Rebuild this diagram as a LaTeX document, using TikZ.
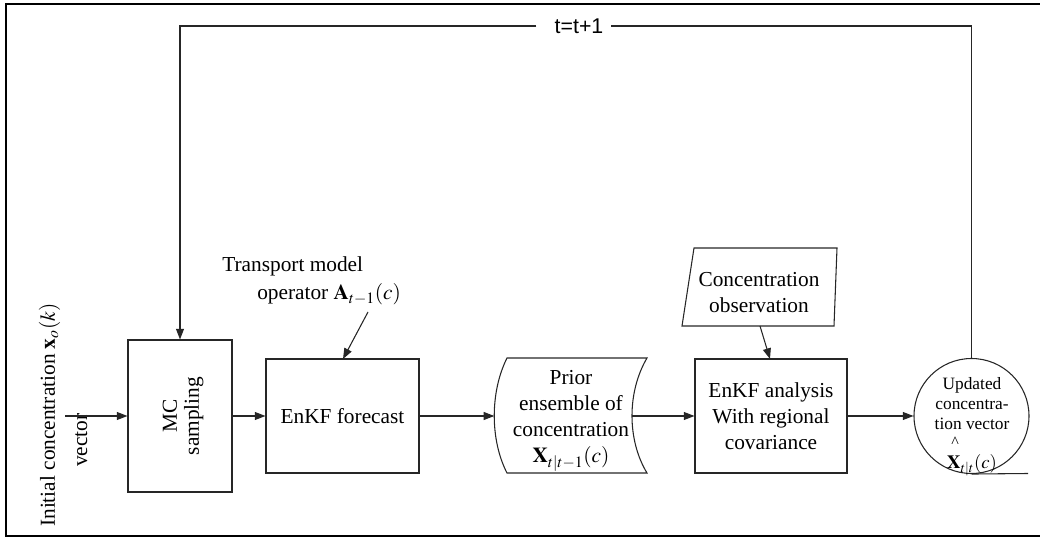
\documentclass[tikz,border=0pt]{standalone}
\usepackage{mathptmx}
\usepackage{fontspec}
\setmainfont{Liberation Serif}
\newfontfamily\arialf{Liberation Sans}
\usetikzlibrary{arrows.meta}
\begin{document}
\begin{tikzpicture}[x=0.75pt,y=-0.75pt,
  ln/.style={draw=black!85, line width=0.8pt},
  arr/.style={ln, -{Triangle[length=8pt,width=6pt]}},
  box/.style={ln, rectangle, inner sep=0pt, align=center, font=\fontsize{16}{19.5}\selectfont},
  txt/.style={inner sep=0pt, align=center, font=\fontsize{16}{19.5}\selectfont},
  plain/.style={inner sep=0pt, font=\fontsize{16}{19.5}\selectfont},
]
\useasboundingbox (0,0) rectangle (1040,538);
% outer frame (open on the right)
\draw[line width=1.6pt] (1040,4) -- (6,4) -- (6,536) -- (1040,536);

% main blocks
\node[box, minimum width=78pt, minimum height=114pt] (mc) at (180,416) {};
\node[txt, rotate=90, font=\fontsize{16}{16.5}\selectfont] (mclabel) at (183,416) {MC\\sampling};
\node[box, minimum width=114.75pt, minimum height=85.5pt] (fc) at (342.5,416) {EnKF forecast};
\node[box, minimum width=114pt, minimum height=85.5pt] (an) at (771,416) {EnKF analysis\\With regional\\covariance};
\node[ln, circle, minimum size=86.25pt, inner sep=0pt] (circ) at (971.5,416) {};
\node[txt, font=\fontsize{13}{15}\selectfont] (circtext) at (972,404) {Updated\\concentra-\\tion vector};
\node[inner sep=0pt, font=\fontsize{14}{15}\selectfont] (circmath) at (972,465) {$\mathbf{X}_{t|t}(c)$};
\node[inner sep=0pt, font=\fontsize{12}{12}\selectfont] (circhat) at (955,442) {\textasciicircum};

% prior ensemble shape
\draw[ln] (507,358) -- (647,358) .. controls (627,392) and (627,440) .. (647,473)
  -- (507,473) .. controls (490,440) and (490,392) .. (507,358) -- cycle;
\node[txt] (prior) at (571,421) {Prior\\ensemble of\\concentration\\$\mathbf{X}_{t|t-1}(c)$};
\coordinate (priorW) at (494.3,416);
\coordinate (priorE) at (632,416);

% observation
\draw[ln] (694,248) -- (837,248) -- (834,326) -- (682,326) -- cycle;
\node[txt] (obs) at (759,293) {Concentration\\observation};
\coordinate (obsS) at (760,326);
\coordinate (anN) at (770,359);

% transport model label
\node[plain, anchor=base west] (tm1) at (222,272) {Transport model};
\node[plain, anchor=base west] (tm2) at (257,300) {operator $\mathbf{A}_{t-1}(c)$};
\coordinate (tmS) at (368,312);
\coordinate (fcN) at (343,359);

% initial concentration label
\node[plain, rotate=90, anchor=base west] (init1) at (55,527) {Initial concentration $\mathbf{x}_o(k)$};
\node[plain, rotate=90, anchor=base west] (init2) at (87,467) {vector};
\coordinate (in) at (65,416);

% connectors
\draw[arr] (in) -- (mc.west);
\draw[arr] (mc.east) -- (fc.west);
\draw[arr] (fc.east) -- (priorW);
\draw[arr] (priorE) -- (an.west);
\draw[arr] (an.east) -- (circ.west);
\draw[arr] (tmS) -- (fcN);
\draw[arr] (obsS) -- (anN);

% feedback loop
\coordinate (fbR) at (971.5,26);
\coordinate (fbL) at (180,26);
\node[inner sep=0pt, font=\arialf\fontsize{16}{16}\selectfont] (tlabel) at (579,26) {t=t+1};
\draw[ln] (circ.north) -- (fbR) -- ([xshift=5.25pt]tlabel.east);
\draw[arr] ([xshift=-13.5pt]tlabel.west) -- (fbL) -- (mc.north);

% tail line under the circle
\coordinate (tail) at (1028,473.5);
\draw[ln] (circ.south) -- (tail);
\end{tikzpicture}
\end{document}
